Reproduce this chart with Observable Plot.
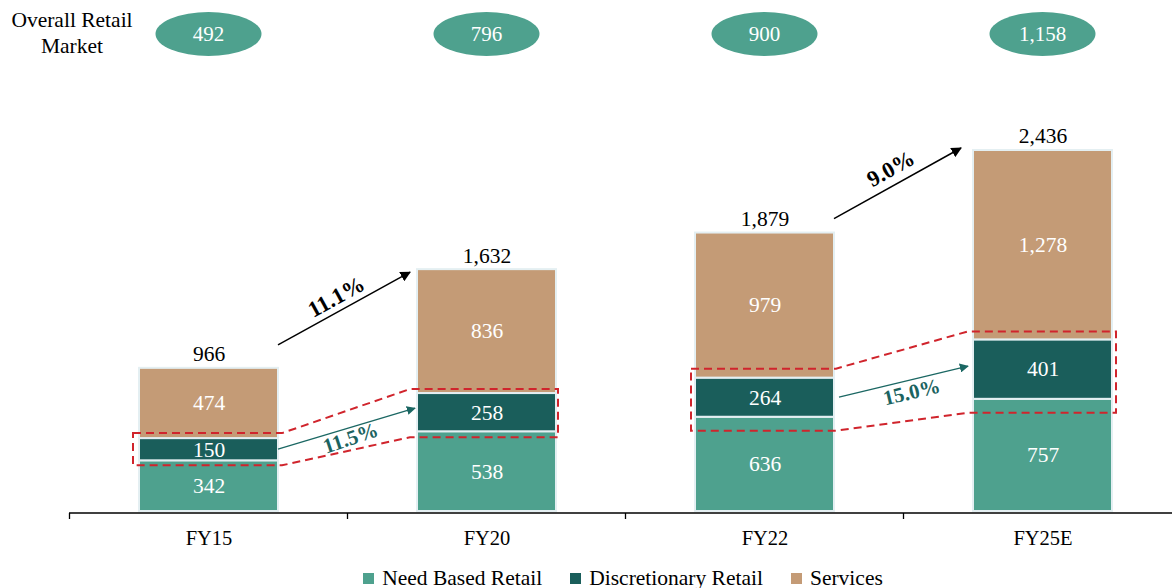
<!DOCTYPE html>
<html><head><meta charset="utf-8">
<script src="https://cdn.jsdelivr.net/npm/d3@7"></script>
<script src="https://cdn.jsdelivr.net/npm/@observablehq/plot@0.6"></script>
<style>
html,body{margin:0;padding:0;background:#fff;}
body{width:1172px;height:588px;overflow:hidden;font-family:"Liberation Serif","Times New Roman",serif;}
#legend{box-sizing:border-box;width:1172px;height:36px;padding-left:74px;display:flex;justify-content:center;align-items:center;font-size:21.5px;color:#000;}
#legend .item{display:flex;align-items:center;margin:0 14px;}
#legend .sw{width:11px;height:11px;margin-right:8px;}
</style></head><body>
<div id="chart"></div>
<div id="legend"></div>
<script>
const years = ["FY15","FY20","FY22","FY25E"];
const needBased = [342,538,636,757];
const discretionary = [150,258,264,401];
const services = [474,836,979,1278];
const totals = [966,1632,1879,2436];
const overallRetail = [492,796,900,1158];
const seriesNames = ["Need Based Retail","Discretionary Retail","Services"];
const colors = ["#4ea18e","#1a5e5b","#c49b76"];
const totalCagr = ["11.1%","9.0%"];
const discCagr = ["11.5%","15.0%"];
const cagrPairs = [[0,1],[2,3]];

const fmt = d3.format(",");
const seriesValues = [needBased, discretionary, services];
const rows = years.flatMap((y,i)=>seriesNames.map((s,k)=>({year:y, series:s, value:seriesValues[k][i]})));
const totalRows = years.map((y,i)=>({year:y, total:totals[i]}));

const FONT = '"Liberation Serif","Times New Roman",serif';
const chart = Plot.plot({
  width:1172, height:560,
  marginTop:150, marginBottom:49, marginLeft:69, marginRight:0,
  style:{fontFamily:FONT, fontSize:"20px", color:"#000", background:"transparent"},
  x:{domain:years, range:[69,1181], paddingInner:0.5, paddingOuter:0.25, label:null},
  y:{domain:[0,2436], axis:null},
  color:{domain:seriesNames, range:colors},
  marks:[
    Plot.barY(rows, {x:"year", y:"value", fill:"series", stroke:"#e4eff2", strokeWidth:2}),
    Plot.text(rows, Plot.stackY({x:"year", y:"value", text:d=>fmt(d.value), fill:"white", fontSize:21.5})),
    Plot.text(totalRows, {x:"year", y:"total", text:d=>fmt(d.total), dy:-14, fontSize:21.5, fill:"black"}),
    Plot.axisX({tickSize:0, tickPadding:19, fontSize:20.5, label:null})
  ]
});
document.getElementById("chart").appendChild(chart);

const sx = chart.scale("x"), sy = chart.scale("y");
const X = y=>sx.apply(y);
const step = sx.apply(years[1]) - sx.apply(years[0]);
const bw = sx.bandwidth ?? step*0.5;
const Y = v=>sy.apply(v);
const svg = d3.select(chart);
const g = svg.append("g");

// axis line and boundary ticks
const base = Y(0)+2;
g.append("line").attr("x1",69).attr("x2",1172).attr("y1",base).attr("y2",base).attr("stroke","#000").attr("stroke-width",1.3);
years.forEach(y=>{
  const tx = X(y) - (step-bw)/2;
  g.append("line").attr("x1",tx).attr("x2",tx).attr("y1",base).attr("y2",base+6).attr("stroke","#000").attr("stroke-width",1.3);
});

// top ellipses
g.append("text").attr("x",72).attr("y",27).attr("text-anchor","middle").attr("font-size",21.5).attr("font-family",FONT).text("Overall Retail");
g.append("text").attr("x",72).attr("y",53).attr("text-anchor","middle").attr("font-size",21.5).attr("font-family",FONT).text("Market");
years.forEach((y,i)=>{
  const cx = X(y)+bw/2;
  g.append("ellipse").attr("cx",cx).attr("cy",34).attr("rx",53).attr("ry",22).attr("fill",colors[0]);
  g.append("text").attr("x",cx).attr("y",34).attr("dy","0.35em").attr("text-anchor","middle").attr("fill","white").attr("font-size",21).attr("font-family",FONT).text(fmt(overallRetail[i]));
});

// markers
const defs = svg.append("defs");
function marker(id,color){
  defs.append("marker").attr("id",id).attr("viewBox","0 0 10 10").attr("refX",9).attr("refY",5)
    .attr("markerWidth",7).attr("markerHeight",7).attr("markerUnits","strokeWidth").attr("orient","auto")
    .append("path").attr("d","M0,0L10,5L0,10z").attr("fill",color);
}
marker("arrBlack","#000");
marker("arrTeal","#1b6763");

// red dashed outlines around discretionary segments
const boxPads = [
  {l1:6,r1:4,t1:5,b1:5,l2:7,r2:2,t2:4,b2:6},
  {l1:4,r1:2,t1:9,b1:14,l2:5,r2:4,t2:8,b2:14}
];
cagrPairs.forEach(([a,b],p)=>{
  const pd = boxPads[p];
  const L1 = X(years[a])-pd.l1, R1 = X(years[a])+bw+pd.r1;
  const T1 = Y(needBased[a]+discretionary[a])-pd.t1, B1 = Y(needBased[a])+pd.b1;
  const L2 = X(years[b])-pd.l2, R2 = X(years[b])+bw+pd.r2;
  const T2 = Y(needBased[b]+discretionary[b])-pd.t2, B2 = Y(needBased[b])+pd.b2;
  const pts = [[L1,T1],[R1,T1],[L2,T2],[R2,T2],[R2,B2],[L2,B2],[R1,B1],[L1,B1]];
  g.append("path").attr("d","M"+pts.map(p=>p.join(",")).join("L")+"Z")
    .attr("fill","none").attr("stroke","#d0242c").attr("stroke-width",2).attr("stroke-dasharray","8,5");
});

// total CAGR arrows
const blackArr = [{ds:-23,de:3,dxe:-7,lx:-8,ly:-12},{ds:-14,de:-2,dxe:-12,lx:-7,ly:-15}];
cagrPairs.forEach(([a,b],p)=>{
  const o = blackArr[p];
  const x1 = X(years[a])+bw, y1 = Y(totals[a])+o.ds;
  const x2 = X(years[b])+o.dxe, y2 = Y(totals[b])+o.de;
  g.append("line").attr("x1",x1).attr("y1",y1).attr("x2",x2).attr("y2",y2).attr("stroke","#000").attr("stroke-width",1.5).attr("marker-end","url(#arrBlack)");
  const ang = Math.atan2(y2-y1,x2-x1)*180/Math.PI;
  const mx = (x1+x2)/2+o.lx, my = (y1+y2)/2+o.ly;
  g.append("text").attr("transform",`translate(${mx},${my}) rotate(${ang})`).attr("dy","0.35em").attr("text-anchor","middle")
    .attr("font-size",22.5).attr("font-weight","bold").attr("font-family",FONT).attr("fill","#000").text(totalCagr[p]);
});

// discretionary CAGR arrows
const tealArr = [{dxs:0,dxe:-2,dye:-4,lx:4,ly:9,rot:-2},{dxs:5,dxe:-5,dye:-3,lx:8,ly:10,rot:0}];
cagrPairs.forEach(([a,b],p)=>{
  const o = tealArr[p];
  const x1 = X(years[a])+bw+o.dxs, y1 = Y(needBased[a]+discretionary[a]/2);
  const x2 = X(years[b])+o.dxe, y2 = Y(needBased[b]+discretionary[b]/2)+o.dye;
  g.append("line").attr("x1",x1).attr("y1",y1).attr("x2",x2).attr("y2",y2).attr("stroke","#1b6763").attr("stroke-width",1.3).attr("marker-end","url(#arrTeal)");
  const ang = Math.atan2(y2-y1,x2-x1)*180/Math.PI + o.rot;
  const mx = (x1+x2)/2+o.lx, my = (y1+y2)/2+o.ly;
  g.append("text").attr("transform",`translate(${mx},${my}) rotate(${ang})`).attr("dy","0.35em").attr("text-anchor","middle")
    .attr("font-size",21).attr("font-weight","bold").attr("font-family",FONT).attr("fill","#1b6360").text(discCagr[p]);
});

// legend
const leg = d3.select("#legend");
seriesNames.forEach((s,i)=>{
  const it = leg.append("div").attr("class","item");
  it.append("div").attr("class","sw").style("background",colors[i]);
  it.append("span").text(s);
});
</script>
</body></html>
